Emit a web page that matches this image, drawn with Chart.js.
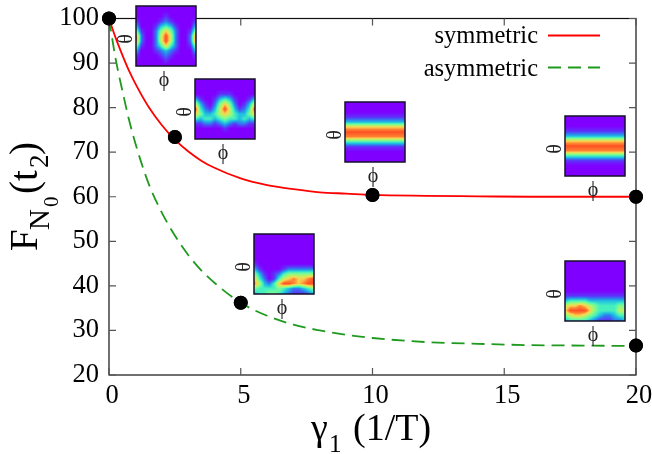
<!DOCTYPE html>
<html>
<head>
<title>F_N0(t2)</title>
<script src="https://cdn.jsdelivr.net/npm/chart.js@4"></script>
<style>
html, body { margin: 0; padding: 0; background: #fff; }
#wrap { width: 652px; height: 454px; }
</style>
</head>
<body>
<div id="wrap"><canvas id="myChart" width="652" height="454"></canvas></div>
<script>
// curves
const gammaValues = [0, 0.25, 0.5, 0.75, 1, 1.5, 2, 2.5, 3, 3.5, 4, 5, 6, 7, 8, 9, 10, 12, 14, 16, 18, 20];
const symmetricValues = [100, 95.7, 91.9, 88.4, 85.4, 80.2, 76.1, 72.8, 70.2, 68.1, 66.5, 64.1, 62.6, 61.7, 61, 60.7, 60.4, 60.2, 60.1, 60, 60, 60];
const asymmetricValues = [100, 91, 84, 77.5, 72, 63, 56.5, 51.3, 47, 43.5, 40.7, 36.2, 33.3, 31.3, 30, 29, 28.3, 27.4, 27, 26.7, 26.6, 26.5];
const markerX = [0, 2.5, 5, 10, 20, 20];
const markerY = [100, 73.4, 36.2, 60.4, 60, 26.6];

const xTicks = [0, 5, 10, 15, 20];
const yTicks = [20, 30, 40, 50, 60, 70, 80, 90, 100];
const seriesNames = ['symmetric', 'asymmetric'];

// inset density maps, 0 (purple) to 9 (red), one string per row
const map1 = ['0000000000000', '0000000000000', '0000001000000', '1000012100001', '3000134310003', '5100257520015', '8200269620028', '8200269620028', '5100247420015', '3000123210003', '1000012100001', '0000001000000', '0000000000000'];
const map2 = ['0000000000000', '0000000000000', '0000000000000', '0000011100000', '3100134310013', '6310257520136', '9421369631249', '7533467643357', '4344345443434', '1122123212211', '0000001000000', '0000000000000', '0000000000000'];
const map3 = ['0', '0', '0', '1', '3', '7', '9', '8', '4', '1', '0', '0', '0'];
const map4 = ['0', '0', '0', '1', '3', '7', '9', '8', '4', '1', '0', '0', '0'];
const map5 = ['0000000000000', '0000000000000', '0000000000000', '0000000000000', '0000000000000', '0000000000000', '1000000000000', '3100001222222', '5310124555555', '7420146787789', '8632479987899', '5444454322345', '3445543211123'];
const map6 = ['0000000000000', '0000000000000', '0000000000000', '0000000000000', '0000000000000', '0000000000000', '0000000000000', '1111111111111', '3444433333333', '6778765444455', '7999975444466', '5677654322344', '3444432111223'];

const palette = [[127, 0, 255], [95, 50, 250], [50, 120, 240], [30, 190, 225], [70, 240, 190], [130, 250, 140], [190, 240, 100], [250, 210, 80], [255, 130, 50], [255, 80, 35]];

// inset placement in axis units: map, left x, top y
const insets = [
	{map: map1, x: 1.02, y: 102.7},
	{map: map2, x: 3.27, y: 86.4},
	{map: map3, x: 8.96, y: 81.2},
	{map: map4, x: 17.32, y: 78.2},
	{map: map5, x: 5.5, y: 51.6},
	{map: map6, x: 17.32, y: 45.6}
];
const insetSize = 60;

function mapColor(v) {
	let i = Math.min(8, Math.floor(v));
	let t = v - i;
	return palette[i].map(function(c, k) { return Math.round(c + (palette[i + 1][k] - c) * t); });
}

function mapValue(rows, u, v) {
	let ny = rows.length - 1;
	let nx = rows[0].length - 1;
	let fy = v * ny, fx = u * nx;
	let y0 = Math.min(Math.floor(fy), Math.max(ny - 1, 0));
	let x0 = nx > 0 ? Math.min(Math.floor(fx), nx - 1) : 0;
	let y1 = Math.min(y0 + 1, ny), x1 = Math.min(x0 + 1, nx);
	let ty = fy - y0, tx = nx > 0 ? fx - x0 : 0;
	let a = +rows[y0][x0], b = +rows[y0][x1], c = +rows[y1][x0], d = +rows[y1][x1];
	return (a * (1 - tx) + b * tx) * (1 - ty) + (c * (1 - tx) + d * tx) * ty;
}

function drawInset(ctx, inset, left, top) {
	let img = ctx.createImageData(insetSize, insetSize);
	for (let j = 0; j < insetSize; j++) {
		for (let i = 0; i < insetSize; i++) {
			let col = mapColor(mapValue(inset.map, i / (insetSize - 1), j / (insetSize - 1)));
			let p = (j * insetSize + i) * 4;
			img.data[p] = col[0];
			img.data[p + 1] = col[1];
			img.data[p + 2] = col[2];
			img.data[p + 3] = 255;
		}
	}
	ctx.putImageData(img, left, top);
	ctx.strokeStyle = '#14102a';
	ctx.lineWidth = 1.5;
	ctx.strokeRect(left, top, insetSize, insetSize);

	ctx.fillStyle = '#222';
	ctx.font = '20px "Liberation Serif"';
	ctx.textAlign = 'center';
	ctx.textBaseline = 'middle';
	ctx.fillText('ϕ', left + 28, top + insetSize + 15);
	ctx.save();
	ctx.translate(left - 9, top + 33);
	ctx.rotate(-Math.PI / 2);
	ctx.fillText('θ', 0, 0);
	ctx.restore();
}

// box, inward ticks, insets, legend and axis titles
const decorations = {
	id: 'decorations',
	afterDatasetsDraw(chart) {
		const ctx = chart.ctx;
		const area = chart.chartArea;
		const sx = chart.scales.x, sy = chart.scales.y;
		const tick = 7;
		ctx.save();
		ctx.strokeStyle = '#111';
		ctx.lineWidth = 1.2;
		ctx.strokeRect(area.left, area.top, area.right - area.left, area.bottom - area.top);
		ctx.strokeStyle = '#555';
		ctx.beginPath();
		xTicks.forEach(function(t) {
			let px = sx.getPixelForValue(t);
			ctx.moveTo(px, area.bottom); ctx.lineTo(px, area.bottom - tick);
			ctx.moveTo(px, area.top); ctx.lineTo(px, area.top + tick);
		});
		yTicks.forEach(function(t) {
			let py = sy.getPixelForValue(t);
			ctx.moveTo(area.left, py); ctx.lineTo(area.left + tick, py);
			ctx.moveTo(area.right, py); ctx.lineTo(area.right - tick, py);
		});
		ctx.stroke();

		// markers go back on top of the box
		chart.getDatasetMeta(2).data.forEach(function(p) { p.draw(ctx); });

		insets.forEach(function(inset) {
			drawInset(ctx, inset, Math.round(sx.getPixelForValue(inset.x)), Math.round(sy.getPixelForValue(inset.y)));
		});

		// legend
		ctx.font = '24.5px "Liberation Serif"';
		ctx.fillStyle = '#000';
		ctx.textAlign = 'right';
		ctx.textBaseline = 'alphabetic';
		ctx.fillText(seriesNames[0], 538, 43);
		ctx.fillText(seriesNames[1], 538, 75.5);
		ctx.lineWidth = 1.8;
		ctx.strokeStyle = '#ff0000';
		ctx.beginPath(); ctx.moveTo(548, 35.5); ctx.lineTo(600, 35.5); ctx.stroke();
		ctx.strokeStyle = '#1f9a1f';
		ctx.setLineDash([13, 7]);
		ctx.beginPath(); ctx.moveTo(548, 67.5); ctx.lineTo(600, 67.5); ctx.stroke();
		ctx.setLineDash([]);

		// x title
		ctx.fillStyle = '#000';
		ctx.textAlign = 'left';
		ctx.font = '38px "Liberation Serif"';
		ctx.fillText('γ', 311, 440);
		ctx.fillText('(1/T)', 353, 440);
		ctx.font = '25px "Liberation Serif"';
		ctx.fillText('1', 329, 452);

		// y title
		ctx.translate(37, 251);
		ctx.rotate(-Math.PI / 2);
		ctx.font = '39px "Liberation Serif"';
		ctx.fillText('F', 0, 0);
		ctx.font = '29px "Liberation Serif"';
		ctx.fillText('N', 21, 12);
		ctx.font = '21px "Liberation Serif"';
		ctx.fillText('0', 44, 21);
		ctx.font = '39px "Liberation Serif"';
		ctx.fillText('(t', 57, 0);
		ctx.fillText(')', 96, 0);
		ctx.font = '27px "Liberation Serif"';
		ctx.fillText('2', 83, 11);
		ctx.restore();
	}
};

function points(xs, ys) {
	return xs.map(function(x, i) { return {x: x, y: ys[i]}; });
}

new Chart(document.getElementById('myChart').getContext('2d'), {
	type: 'line',
	plugins: [decorations],
	options: {
		responsive: false,
		animation: false,
		layout: {padding: {left: 0, right: 16, top: 18.5, bottom: 0}},
		plugins: {legend: {display: false}, tooltip: {enabled: false}},
		scales: {
			x: {
				type: 'linear',
				min: 0,
				max: 20,
				afterBuildTicks(axis) { axis.ticks = xTicks.map(function(v) { return {value: v}; }); },
				afterFit(axis) { axis.height = 79; axis.paddingLeft = 0; axis.paddingRight = 0; },
				grid: {display: false, drawTicks: false},
				border: {display: false},
				ticks: {color: '#000', font: {family: 'Liberation Serif', size: 26.5}, padding: 5, labelOffset: 3, maxRotation: 0}
			},
			y: {
				min: 20,
				max: 100,
				afterBuildTicks(axis) { axis.ticks = yTicks.map(function(v) { return {value: v}; }); },
				afterFit(axis) { axis.width = 109; axis.paddingTop = 0; axis.paddingBottom = 0; },
				grid: {display: false, drawTicks: false},
				border: {display: false},
				ticks: {color: '#000', font: {family: 'Liberation Serif', size: 26.5}, padding: 10}
			}
		},
		elements: {point: {radius: 0}}
	},
	data: {
		datasets: [
			{label: seriesNames[0], data: points(gammaValues, symmetricValues), borderColor: '#ff0000', borderWidth: 1.8, cubicInterpolationMode: 'monotone', pointRadius: 0, clip: false},
			{label: seriesNames[1], data: points(gammaValues, asymmetricValues), borderColor: '#1f9a1f', borderWidth: 1.8, borderDash: [13, 7], cubicInterpolationMode: 'monotone', pointRadius: 0, clip: false},
			{label: 'points', data: points(markerX, markerY), showLine: false, pointRadius: 7, pointBackgroundColor: '#000', pointBorderColor: '#000', pointBorderWidth: 0, clip: false}
		]
	}
});
</script>
</body>
</html>
